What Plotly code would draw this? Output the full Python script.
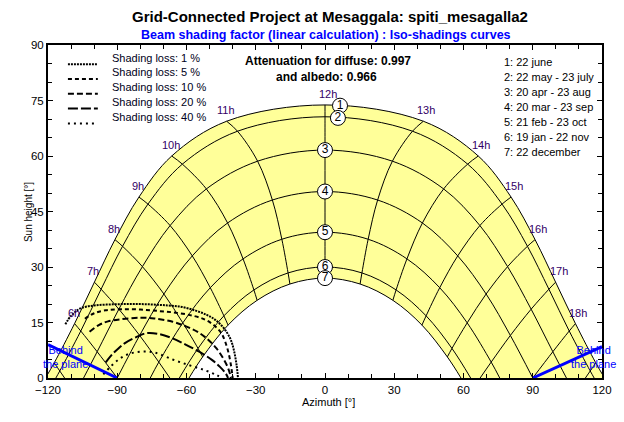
import plotly.graph_objects as go

# ---------------- data ----------------
# Sun paths: azimuth [deg] and sun height [deg], sunrise -> hourly points -> sunset
JUN_AZ = [-121.1, -117.3, -108.5, -99.9, -91.0, -80.6, -66.4, -42.6, 0.0, 42.6, 66.4, 80.6, 91.0, 99.9, 108.5, 117.3, 121.1]
JUN_H = [0.0, 4.1, 14.7, 25.9, 37.4, 48.9, 60.0, 69.4, 73.8, 69.4, 60.0, 48.9, 37.4, 25.9, 14.7, 4.1, 0.0]
MAY_AZ = [-116.6, -114.9, -105.8, -97.0, -87.7, -76.7, -61.8, -37.9, 0.0, 37.9, 61.8, 76.7, 87.7, 97.0, 105.8, 114.9, 116.6]
MAY_H = [0.0, 1.9, 12.7, 24.0, 35.6, 47.0, 57.8, 66.7, 70.6, 66.7, 57.8, 47.0, 35.6, 24.0, 12.7, 1.9, 0.0]
APR_AZ = [-104.6, -98.7, -89.3, -79.1, -67.1, -51.4, -29.2, 0.0, 29.2, 51.4, 67.1, 79.1, 89.3, 98.7, 104.6]
APR_H = [0.0, 7.1, 18.6, 30.1, 41.2, 51.1, 58.6, 61.6, 58.6, 51.1, 41.2, 30.1, 18.6, 7.1, 0.0]
MAR_AZ = [-90.0, -80.3, -69.8, -57.5, -42.2, -22.8, 0.0, 22.8, 42.2, 57.5, 69.8, 80.3, 90.0]
MAR_H = [0.0, 11.5, 22.7, 33.0, 41.9, 48.1, 50.4, 48.1, 41.9, 33.0, 22.7, 11.5, 0.0]
FEB_AZ = [-75.7, -72.0, -61.6, -49.7, -35.5, -18.7, 0.0, 18.7, 35.5, 49.7, 61.6, 72.0, 75.7]
FEB_H = [0.0, 4.3, 14.9, 24.4, 32.2, 37.5, 39.4, 37.5, 32.2, 24.4, 14.9, 4.3, 0.0]
JAN_AZ = [-63.1, -55.0, -43.8, -30.8, -16.0, 0.0, 16.0, 30.8, 43.8, 55.0, 63.1]
JAN_H = [0.0, 8.0, 16.8, 23.8, 28.4, 30.0, 28.4, 23.8, 16.8, 8.0, 0.0]
DEC_AZ = [-58.9, -53.0, -42.0, -29.4, -15.2, 0.0, 15.2, 29.4, 42.0, 53.0, 58.9]
DEC_H = [0.0, 5.7, 14.3, 21.0, 25.4, 27.0, 25.4, 21.0, 14.3, 5.7, 0.0]

DATE_LABELS = ["1: 22 june", "2: 22 may - 23 july", "3: 20 apr - 23 aug", "4: 20 mar - 23 sep",
               "5: 21 feb - 23 oct", "6: 19 jan - 22 nov", "7: 22 december"]

# Hour lines (solar time), from the 22 june curve down to the last date / horizon
HOUR_NAMES = ["5h", "6h", "7h", "8h", "9h", "10h", "11h", "12h",
              "13h", "14h", "15h", "16h", "17h", "18h", "19h"]
HOUR_AZ = [
    [-117.3, -114.9, -112.8],
    [-108.5, -105.8, -98.7, -90.0],
    [-99.9, -97.0, -89.3, -80.3, -72.0, -67.2],
    [-91.0, -87.7, -79.1, -69.8, -61.6, -55.0, -53.0],
    [-80.6, -76.7, -67.1, -57.5, -49.7, -43.8, -42.0],
    [-66.4, -61.8, -51.4, -42.2, -35.5, -30.8, -29.4],
    [-42.6, -37.9, -29.2, -22.8, -18.7, -16.0, -15.2],
    [0.0, 0.0, 0.0, 0.0, 0.0, 0.0, 0.0],
    [42.6, 37.9, 29.2, 22.8, 18.7, 16.0, 15.2],
    [66.4, 61.8, 51.4, 42.2, 35.5, 30.8, 29.4],
    [80.6, 76.7, 67.1, 57.5, 49.7, 43.8, 42.0],
    [91.0, 87.7, 79.1, 69.8, 61.6, 55.0, 53.0],
    [99.9, 97.0, 89.3, 80.3, 72.0, 67.2],
    [108.5, 105.8, 98.7, 90.0],
    [117.3, 114.9, 112.8],
]
HOUR_H = [
    [4.1, 1.9, 0.0],
    [14.7, 12.7, 7.1, 0.0],
    [25.9, 24.0, 18.6, 11.5, 4.3, 0.0],
    [37.4, 35.6, 30.1, 22.7, 14.9, 8.0, 5.7],
    [48.9, 47.0, 41.2, 33.0, 24.4, 16.8, 14.3],
    [60.0, 57.8, 51.1, 41.9, 32.2, 23.8, 21.0],
    [69.4, 66.7, 58.6, 48.1, 37.5, 28.4, 25.4],
    [73.8, 70.6, 61.6, 50.4, 39.4, 30.0, 27.0],
    [69.4, 66.7, 58.6, 48.1, 37.5, 28.4, 25.4],
    [60.0, 57.8, 51.1, 41.9, 32.2, 23.8, 21.0],
    [48.9, 47.0, 41.2, 33.0, 24.4, 16.8, 14.3],
    [37.4, 35.6, 30.1, 22.7, 14.9, 8.0, 5.7],
    [25.9, 24.0, 18.6, 11.5, 4.3, 0.0],
    [14.7, 12.7, 7.1, 0.0],
    [4.1, 1.9, 0.0],
]

# Iso-shading curves
SHADE_NAMES = ["Shading loss: 1 %", "Shading loss: 5 %", "Shading loss: 10 %",
               "Shading loss: 20 %", "Shading loss: 40 %"]
SH1_AZ = [-112.5, -110.0, -106.0, -100.0, -92.0, -84.0, -76.0, -68.0, -62.0, -56.0, -51.0, -47.5, -44.0, -41.0, -39.5, -38.3, -37.7]
SH1_H = [14.5, 16.8, 18.8, 19.6, 19.9, 20.0, 19.9, 19.6, 19.2, 18.2, 17.0, 15.7, 13.6, 10.6, 7.6, 3.5, 0.0]
SH5_AZ = [-104.0, -100.0, -95.0, -88.0, -80.0, -72.0, -64.0, -57.0, -52.0, -48.0, -45.0, -43.0, -41.5, -40.5, -40.0]
SH5_H = [16.0, 17.5, 18.3, 18.6, 18.5, 18.1, 17.6, 16.8, 15.8, 14.2, 12.2, 9.4, 6.0, 2.5, 0.0]
SH10_AZ = [-102.0, -98.0, -94.0, -88.0, -80.0, -74.0, -66.0, -60.0, -55.0, -50.5, -47.0, -44.0, -42.2, -41.2, -40.8]
SH10_H = [12.5, 14.3, 15.3, 15.9, 16.3, 16.1, 15.2, 13.9, 12.4, 10.3, 8.0, 5.2, 3.0, 1.2, 0.0]
SH20_AZ = [-95.0, -92.5, -89.5, -86.5, -82.0, -77.5, -72.0, -66.0, -60.0, -54.5, -49.0, -45.5, -43.0, -42.0]
SH20_H = [4.2, 6.2, 8.0, 9.5, 11.0, 12.1, 11.9, 10.7, 8.9, 7.1, 4.9, 3.0, 1.2, 0.0]
SH40_AZ = [-96.0, -93.0, -89.0, -85.0, -80.0, -74.0, -66.0, -59.0, -52.0, -47.0, -44.5]
SH40_H = [1.0, 3.0, 5.2, 6.5, 7.1, 6.9, 5.0, 3.5, 2.1, 0.8, 0.0]

# "Behind the plane" limits
BEHIND_L_AZ = [-90.0, -120.0]
BEHIND_L_H = [0.0, 9.0]
BEHIND_R_AZ = [90.0, 120.0]
BEHIND_R_H = [0.0, 8.5]

DIFFUSE_ATT = 0.997
ALBEDO_ATT = 0.966

# ---------------- figure ----------------
FONT = "Liberation Sans, Arial, sans-serif"
L, R, T, B = 48, 20, 45, 44
W, H = 624, 422
PW, PH = W - L - R, H - T - B


def px_x(px):
    return (px - L) / PW


def px_y(py):
    return (H - B - py) / PH


fig = go.Figure()

date_az = [JUN_AZ, MAY_AZ, APR_AZ, MAR_AZ, FEB_AZ, JAN_AZ, DEC_AZ]
date_h = [JUN_H, MAY_H, APR_H, MAR_H, FEB_H, JAN_H, DEC_H]

# yellow area between 22 june and 22 december
fig.add_trace(go.Scatter(x=JUN_AZ, y=JUN_H, mode="lines", line=dict(color="black", width=1, shape="spline"),
                         fill="tozeroy", fillcolor="#FFFF99", hoverinfo="skip"))
fig.add_trace(go.Scatter(x=DEC_AZ, y=DEC_H, mode="lines", line=dict(color="black", width=1, shape="spline"),
                         fill="tozeroy", fillcolor="white", hoverinfo="skip"))
for az, hh in zip(date_az[1:6], date_h[1:6]):
    fig.add_trace(go.Scatter(x=az, y=hh, mode="lines", line=dict(color="black", width=1, shape="spline"),
                             hoverinfo="skip"))

# hour lines
for az, hh in zip(HOUR_AZ, HOUR_H):
    fig.add_trace(go.Scatter(x=az, y=hh, mode="lines", line=dict(color="black", width=1, shape="spline"),
                             hoverinfo="skip"))

# shading curves
shade_az = [SH1_AZ, SH5_AZ, SH10_AZ, SH20_AZ, SH40_AZ]
shade_h = [SH1_H, SH5_H, SH10_H, SH20_H, SH40_H]
shade_dash = ["2px,1px", "4px,3px", "6px,3px", "10px,3px", "2px,4px"]
for az, hh, d in zip(shade_az, shade_h, shade_dash):
    fig.add_trace(go.Scatter(x=az, y=hh, mode="lines", line=dict(color="black", width=2, dash=d, shape="spline"),
                             hoverinfo="skip"))

# behind the plane
for az, hh in [(BEHIND_L_AZ, BEHIND_L_H), (BEHIND_R_AZ, BEHIND_R_H)]:
    fig.add_trace(go.Scatter(x=az, y=hh, mode="lines", line=dict(color="#0000FF", width=3), hoverinfo="skip",
                             cliponaxis=False))

# date circles at noon (1 and 2 slightly shifted along the curve)
noon_idx = [len(a) // 2 for a in date_az]
circ_x = [date_az[i][noon_idx[i]] for i in range(7)]
circ_y = [date_h[i][noon_idx[i]] for i in range(7)]
circ_x[0] += 6.5
circ_y[0] -= 0.2
circ_x[1] += 5.6
circ_y[1] -= 0.3
fig.add_trace(go.Scatter(x=circ_x, y=circ_y, mode="markers+text",
                         marker=dict(size=15, color="white", line=dict(color="black", width=1)),
                         text=[str(i + 1) for i in range(7)], textposition="middle center",
                         textfont=dict(family=FONT, size=12, color="black"), hoverinfo="skip",
                         cliponaxis=False))

ann = []
# hour labels above the 22 june curve
for k in range(1, 14):
    name = HOUR_NAMES[k]
    xa = JUN_AZ[k + 1]
    ya = JUN_H[k + 1]
    ann.append(dict(x=xa, y=ya, xref="x", yref="y", text=name, showarrow=False,
                    xshift=(-1 if xa < 0 else 3), yshift=11,
                    font=dict(family=FONT, size=11, color="#330066")))

# shading legend
leg_text_y = [57.7, 72.4, 87.1, 101.8, 116.5]
leg_line_y = [64.3, 79.0, 93.7, 108.4, 123.6]
shapes = []
for i in range(5):
    shapes.append(dict(type="line", xref="paper", yref="paper", x0=px_x(68), x1=px_x(98),
                       y0=px_y(leg_line_y[i]), y1=px_y(leg_line_y[i]),
                       line=dict(color="black", width=2, dash=shade_dash[i])))
    ann.append(dict(x=px_x(110), y=px_y(leg_text_y[i]), xref="paper", yref="paper", text=SHADE_NAMES[i],
                    showarrow=False, xanchor="left", yanchor="middle",
                    font=dict(family=FONT, size=11, color="#000020")))

# date list
for i, t in enumerate(DATE_LABELS):
    ann.append(dict(x=px_x(504), y=px_y(61.7 + 15.1 * i), xref="paper", yref="paper", text=t,
                    showarrow=False, xanchor="left", yanchor="middle",
                    font=dict(family=FONT, size=11, color="black")))

# attenuation text
ann.append(dict(x=px_x(329), y=px_y(61), xref="paper", yref="paper",
                text="<b>Attenuation for diffuse: %.3f</b>" % DIFFUSE_ATT, showarrow=False,
                xanchor="center", yanchor="middle", font=dict(family=FONT, size=12, color="black")))
ann.append(dict(x=px_x(328), y=px_y(77), xref="paper", yref="paper",
                text="<b>and albedo: %.3f</b>" % ALBEDO_ATT, showarrow=False,
                xanchor="center", yanchor="middle", font=dict(family=FONT, size=12, color="black")))

# behind the plane texts
for xp in [66, 595]:
    ann.append(dict(x=px_x(xp), y=px_y(357), xref="paper", yref="paper",
                    text="Behind<br>the plane", showarrow=False, xanchor="center", yanchor="middle",
                    align="center", font=dict(family=FONT, size=11, color="#0000FF")))

# titles
ann.append(dict(x=px_x(331), y=px_y(17), xref="paper", yref="paper",
                text="<b>Grid-Connected Project at Mesaggala: spiti_mesagalla2</b>", showarrow=False,
                xanchor="center", yanchor="middle", font=dict(family=FONT, size=15, color="black")))
ann.append(dict(x=px_x(327), y=px_y(35), xref="paper", yref="paper",
                text="<b>Beam shading factor (linear calculation) : Iso-shadings curves</b>", showarrow=False,
                xanchor="center", yanchor="middle", font=dict(family=FONT, size=12.5, color="#0000FF")))
ann.append(dict(x=px_x(330), y=px_y(402), xref="paper", yref="paper", text="Azimuth [°]",
                showarrow=False, xanchor="center", yanchor="middle",
                font=dict(family=FONT, size=11, color="black")))
ann.append(dict(x=px_x(28), y=px_y(212), xref="paper", yref="paper", text="Sun height [°]",
                showarrow=False, textangle=-90, xanchor="center", yanchor="middle",
                font=dict(family=FONT, size=10, color="black")))

fig.update_layout(
    width=W, height=H, margin=dict(l=L, r=R, t=T, b=B),
    paper_bgcolor="white", plot_bgcolor="white", showlegend=False,
    annotations=ann, shapes=shapes,
    xaxis=dict(range=[-120, 120], tick0=0, dtick=30, ticks="inside", ticklen=5, tickcolor="black",
               showgrid=False, zeroline=False, showline=True, linewidth=2, linecolor="black",
               mirror="allticks", tickfont=dict(family=FONT, size=11.5, color="black"),
               minor=dict(dtick=10, ticks="inside", ticklen=4, tickcolor="black", showgrid=False)),
    yaxis=dict(range=[0, 90], tick0=0, dtick=15, ticks="inside", ticklen=5, tickcolor="black",
               showgrid=False, zeroline=False, showline=True, linewidth=2, linecolor="black",
               mirror="allticks", tickfont=dict(family=FONT, size=11.5, color="black"),
               minor=dict(dtick=5, ticks="inside", ticklen=4, tickcolor="black", showgrid=False)),
)

fig.write_html("out.html", config={"displayModeBar": False},
               post_script="document.body.style.margin='0';document.body.style.overflow='hidden';")
